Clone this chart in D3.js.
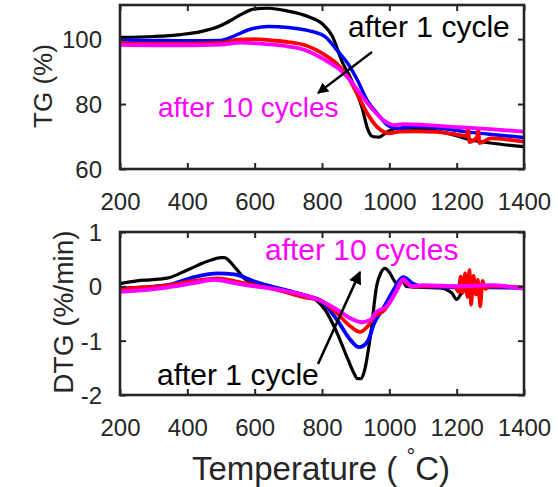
<!DOCTYPE html>
<html><head><meta charset="utf-8">
<script src="https://cdn.jsdelivr.net/npm/d3@7"></script>
<style>
html,body{margin:0;padding:0;background:#fff;}
svg{display:block;font-family:"Liberation Sans",Arial,sans-serif;}
</style></head>
<body>
<svg id="chart" width="558" height="487"></svg>
<script>
// ---------- data ----------
const xTicks = [200, 400, 600, 800, 1000, 1200, 1400];
const tgTicks = [60, 80, 100];
const dtgTicks = [-2, -1, 0, 1];

// TG (%) curves
const tgBlackT = [200,300,380,440,500,530,560,600,640,700,760,800,830,860,885,905,920,935,950,970,990,1020,1060,1100,1150,1190,1240,1300,1400];
const tgBlackV = [100.5,100.8,101.4,102.3,104.2,105.8,107.6,109.3,109.5,108.6,106.9,104.8,101,93,88,83,78.5,72.5,70,69.8,71.2,72.5,72.6,72.2,71.5,70.5,69,68,66.9];
const tgBlueT = [200,300,400,500,540,580,640,700,760,810,845,880,905,935,965,995,1025,1070,1130,1190,1250,1320,1400];
const tgBlueV = [99.7,99.6,99.5,99.6,101,102.8,103.9,103.6,102.6,100.7,96.5,92,87.4,81,77,73.5,72.5,73.1,72.8,72,71.2,70.5,69.7];
const tgRedT = [200,300,400,500,550,600,650,700,750,810,845,875,905,935,965,1000,1030,1080,1140,1190,1230,1234,1238,1260,1264,1268,1300,1400];
const tgRedV = [98.7,98.6,98.6,98.8,99.8,100,99.6,99.1,98.1,95,92.3,88.7,83,77,72.8,71,71.5,71.6,71.4,70.8,70.2,72.4,68.3,69.8,72,68,69.4,68.4];
const tgMagT = [200,300,400,500,560,640,700,750,810,855,885,915,945,985,1015,1040,1100,1190,1300,1400];
const tgMagV = [98.2,98.1,98.1,98.3,98.9,98.4,97.7,96.6,93.5,90.4,87.2,83,79,74.8,73.5,73.8,73.6,73,72.3,71.5];

// DTG (%/min) curves
const dtgBlackT = [200,250,290,340,400,460,500,510,540,575,640,700,745,775,810,845,878,895,905,915,925,945,962,975,987,1000,1015,1027,1040,1050,1100,1150,1185,1200,1215,1240,1300,1400];
const dtgBlackV = [0.05,0.1,0.12,0.15,0.3,0.46,0.53,0.53,0.36,0.12,0.0,-0.08,-0.16,-0.22,-0.44,-0.86,-1.36,-1.6,-1.7,-1.7,-1.58,-0.86,0.0,0.25,0.33,0.26,0.1,0.02,0.1,0.0,-0.02,-0.03,-0.12,-0.24,-0.12,0.0,-0.02,-0.02];
const dtgBlueT = [200,340,420,490,540,600,650,745,795,845,885,910,935,955,985,1012,1035,1042,1070,1100,1200,1300,1400];
const dtgBlueV = [-0.04,0.02,0.17,0.24,0.22,0.09,0.0,-0.16,-0.26,-0.62,-0.99,-1.12,-1.02,-0.68,-0.37,-0.07,0.15,0.17,0.05,0.0,-0.02,-0.02,-0.03];
const dtgRedT = [200,340,420,490,540,600,650,745,795,845,885,913,935,955,985,1012,1040,1065,1100,1195,1205,1212,1218,1225,1232,1238,1243,1250,1257,1263,1270,1277,1285,1300,1400];
const dtgRedV = [-0.04,0.02,0.1,0.15,0.1,0.02,-0.04,-0.2,-0.26,-0.5,-0.74,-0.84,-0.74,-0.56,-0.44,-0.19,0.09,0.0,0.0,0.0,-0.1,0.18,-0.12,0.24,-0.2,0.3,-0.34,0.2,-0.15,0.12,-0.37,0.1,-0.05,0.0,-0.02];
const dtgMagT = [200,340,420,480,540,600,650,745,795,845,885,918,943,962,992,1022,1041,1065,1100,1200,1300,1400];
const dtgMagV = [-0.1,-0.02,0.06,0.12,0.06,0.0,-0.04,-0.16,-0.26,-0.43,-0.59,-0.66,-0.62,-0.47,-0.37,-0.07,0.13,0.0,0.02,0.0,0.02,-0.04];

const seriesColors = ["#000000", "#0000ff", "#ff0000", "#ff00ff"];

// ---------- drawing ----------
const svg = d3.select("#chart");
const ink = "#262626";
const L = 120, R = 524;
const top1 = 5, bot1 = 169, top2 = 232, bot2 = 395;

const x = d3.scaleLinear().domain([200, 1400]).range([L, R]);
const yTG = d3.scaleLinear().domain([60, 110.5]).range([bot1, top1]);
const yDTG = d3.scaleLinear().domain([-2, 1]).range([bot2, top2]);
const fmt = d => String(d);

const defs = svg.append("defs");
function clip(id, t, b) {
  defs.append("clipPath").attr("id", id).append("rect")
    .attr("x", L).attr("y", t).attr("width", R - L).attr("height", b - t);
}
clip("c1", top1, bot1); clip("c2", top2, bot2);

function zip(T, V) { return T.map((t, i) => [t, V[i]]); }

function panel(y, t, b, yt, clipId, series, widths) {
  const g = svg.append("g");
  const line = d3.line().x(d => x(d[0])).y(d => y(d[1])).curve(d3.curveMonotoneX);
  const lg = g.append("g").attr("clip-path", `url(#${clipId})`);
  series.forEach((s, i) => {
    lg.append("path").attr("d", line(s)).attr("fill", "none")
      .attr("stroke", seriesColors[i]).attr("stroke-width", widths[i])
      .attr("stroke-linejoin", "round").attr("stroke-linecap", "round");
  });
  const tl = 6;
  const ax = g.append("g").attr("transform", `translate(0,${b})`)
    .call(d3.axisBottom(x).tickValues(xTicks).tickFormat(fmt).tickSizeInner(-tl).tickSizeOuter(0).tickPadding(24));
  const axT = g.append("g").attr("transform", `translate(0,${t})`)
    .call(d3.axisTop(x).tickValues(xTicks).tickSizeInner(-tl).tickSizeOuter(0).tickFormat(""));
  const ay = g.append("g").attr("transform", `translate(${L},0)`)
    .call(d3.axisLeft(y).tickValues(yt).tickFormat(fmt).tickSizeInner(-tl).tickSizeOuter(0).tickPadding(18));
  const ayR = g.append("g").attr("transform", `translate(${R},0)`)
    .call(d3.axisRight(y).tickValues(yt).tickSizeInner(-tl).tickSizeOuter(0).tickFormat(""));
  [ax, axT, ay, ayR].forEach(a => {
    a.select(".domain").remove();
    a.selectAll(".tick line").attr("stroke", ink).attr("stroke-width", 2);
    a.selectAll("text").attr("fill", ink).attr("font-size", 24)
      .attr("font-family", "Liberation Sans, Arial, sans-serif");
  });
  ay.selectAll("text").attr("dy", "0.36em");
  ax.selectAll("text").attr("dy", "0.71em");
  g.append("rect").attr("x", L).attr("y", t).attr("width", R - L).attr("height", b - t)
    .attr("fill", "none").attr("stroke", ink).attr("stroke-width", 2.6);
  return g;
}

panel(yTG, top1, bot1, tgTicks, "c1",
  [zip(tgBlackT, tgBlackV), zip(tgBlueT, tgBlueV), zip(tgRedT, tgRedV), zip(tgMagT, tgMagV)],
  [3.2, 3.5, 3.8, 3.8]);
panel(yDTG, top2, bot2, dtgTicks, "c2",
  [zip(dtgBlackT, dtgBlackV), zip(dtgBlueT, dtgBlueV), zip(dtgRedT, dtgRedV), zip(dtgMagT, dtgMagV)],
  [3.2, 3.8, 3.6, 4]);

// axis titles
svg.append("text").attr("transform", "translate(52,86) rotate(-90)")
  .attr("text-anchor", "middle").attr("fill", ink).attr("font-size", 26).text("TG (%)");
svg.append("text").attr("transform", "translate(73,312) rotate(-90)")
  .attr("text-anchor", "middle").attr("fill", ink).attr("font-size", 28).text("DTG (%/min)");
const tt = svg.append("text").attr("x", 321).attr("y", 480).attr("text-anchor", "middle")
  .attr("fill", ink).attr("font-size", 33);
tt.append("tspan").text("Temperature ( ");
tt.append("tspan").attr("font-size", 22).attr("dy", -16).text("°");
tt.append("tspan").attr("dy", 16).text("C)");

// annotations
function label(txt, xx, yy, color, size) {
  svg.append("text").attr("x", xx).attr("y", yy).attr("fill", color)
    .attr("font-size", size).text(txt);
}
label("after 1 cycle", 348, 37, "#000", 30);
label("after 10 cycles", 158, 117, "#ff00ff", 28);
label("after 10 cycles", 265, 260, "#ff00ff", 30);
label("after 1 cycle", 157, 385, "#000", 30);

// arrows
const mk = defs.append("marker").attr("id", "ah").attr("viewBox", "0 0 10 10")
  .attr("refX", 9).attr("refY", 5).attr("markerWidth", 5).attr("markerHeight", 5)
  .attr("orient", "auto").attr("markerUnits", "strokeWidth");
mk.append("path").attr("d", "M0,0 L10,5 L0,10 Z").attr("fill", "#000");
svg.append("line").attr("x1", 372).attr("y1", 52).attr("x2", 318).attr("y2", 93)
  .attr("stroke", "#000").attr("stroke-width", 2.2).attr("marker-end", "url(#ah)");
svg.append("line").attr("x1", 318).attr("y1", 364).attr("x2", 360).attr("y2", 272)
  .attr("stroke", "#000").attr("stroke-width", 2.6).attr("marker-end", "url(#ah)");
</script>
</body></html>
